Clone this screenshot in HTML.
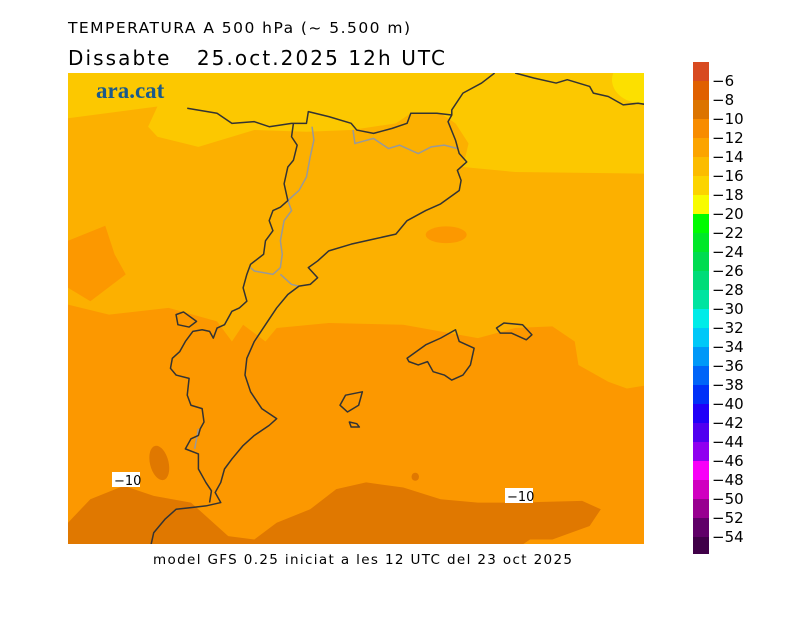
<!DOCTYPE html>
<html><head><meta charset="utf-8"><style>
html,body{margin:0;padding:0;background:#fff;}
svg{display:block;}
text{font-family:"DejaVu Sans","Liberation Sans",sans-serif;fill:#000;}
</style></head><body>
<svg width="800" height="617" viewBox="0 0 800 617" xmlns="http://www.w3.org/2000/svg">
<defs><clipPath id="c"><rect x="68" y="73" width="576" height="471"/></clipPath></defs>
<text x="68" y="33" font-size="15.5" textLength="342" lengthAdjust="spacing">TEMPERATURA A 500 hPa (~ 5.500 m)</text>
<text x="68" y="65" font-size="20" xml:space="preserve" textLength="377" lengthAdjust="spacing">Dissabte   25.oct.2025 12h UTC</text>
<g clip-path="url(#c)">
<rect x="68" y="73" width="576" height="471" fill="#fcb000"/>
<g transform="translate(68 73) scale(0.3726 0.3356)">
<path fill="#fcc800" d="M0,0 L1557,0 L1557,300 L1200,295 L1060,280 L1075,210 L1040,150 L1000,120 L920,120 L880,150 L760,170 L640,175 L500,170 L350,220 L240,190 L215,160 L240,100 L0,135 Z"/>
<ellipse cx="1540" cy="20" rx="80" ry="70" fill="#fce000"/>
<path fill="#fc9800" d="M0,690 L110,720 L270,700 L400,740 L440,800 L470,750 L530,800 L560,760 L700,745 L900,750 L1100,790 L1200,760 L1300,755 L1360,800 L1370,870 L1450,920 L1500,940 L1557,930 L1557,1420 L0,1420 Z"/>
<path fill="#fc9800" d="M0,500 L100,455 L125,540 L155,600 L60,680 L0,640 Z"/>
<ellipse cx="1015" cy="482" rx="55" ry="25" fill="#fc9800"/>
<ellipse cx="1545" cy="815" rx="20" ry="25" fill="#fcb000"/>
<path fill="#e07800" d="M0,1340 L60,1270 L150,1230 L230,1260 L330,1280 L380,1330 L430,1380 L500,1390 L560,1340 L650,1300 L720,1240 L800,1220 L900,1235 L1000,1270 L1100,1280 L1200,1280 L1380,1275 L1430,1300 L1400,1350 L1300,1390 L1240,1390 L1200,1420 L0,1420 Z"/>
<ellipse cx="245" cy="1162" rx="25" ry="52" fill="#e07800" transform="rotate(-12 245 1162)"/>
<ellipse cx="932" cy="1203" rx="10" ry="12" fill="#e07800"/>
<g fill="none" stroke="#999" stroke-width="1.5">
<path vector-effect="non-scaling-stroke" d="M655,160 L660,200 L650,250 L640,310 L620,350 L590,380 L600,410 L580,440 L570,500 L575,540 L570,580 L550,600 L500,590 L490,580 M570,600 L600,630 L620,635"/>
<path vector-effect="non-scaling-stroke" d="M765,170 L770,210 L820,195 L860,225 L890,215 L940,240 L975,220 L1010,215 L1045,225"/>
<path vector-effect="non-scaling-stroke" d="M350,1060 L340,1120"/>
</g>
<g fill="none" stroke="#333" stroke-width="1.5" stroke-linejoin="round">
<path vector-effect="non-scaling-stroke" d="M320,105 L400,120 L440,150 L500,145 L540,160 L600,150 L640,150 L645,115 L700,130 L760,150 L775,170 L820,180 L870,165 L910,150 L920,120 L990,120 L1030,125 L1030,110 L1060,60 L1110,30 L1145,0"/>
<path vector-effect="non-scaling-stroke" d="M1200,0 L1250,15 L1310,30 L1340,20 L1400,40 L1410,60 L1450,70 L1490,95 L1530,90 L1557,95"/>
<path vector-effect="non-scaling-stroke" d="M1030,125 L1020,145 L1040,200 L1050,240 L1070,265 L1045,290 L1055,320 L1050,350 L1000,390 L960,410 L910,440 L880,480 L820,495 L760,510 L700,530 L670,560 L645,580 L670,610 L650,630 L620,635 L590,660 L560,700 L530,750 L500,800 L480,850 L475,900 L490,950 L520,1000 L560,1030 L540,1050 L500,1080 L470,1110 L440,1150 L420,1180 L410,1220 L395,1250 L410,1280 L370,1290 L330,1295 L290,1300 L260,1330 L230,1370 L220,1420"/>
<path vector-effect="non-scaling-stroke" d="M605,150 L600,190 L615,215 L605,260 L590,280 L580,330 L590,380 L570,400 L550,410 L540,440 L550,470 L530,500 L525,540 L490,570 L480,600 L470,640 L480,680 L460,700 L440,710 L420,750 L400,760 L390,790 L380,770 L360,765 L335,770 L315,800 L300,830 L280,850 L275,880 L290,900 L325,910 L320,960 L330,990 L360,1000 L365,1040 L355,1060 L350,1080 L330,1090 L315,1120 L350,1135 L350,1180 L370,1220 L385,1245 L380,1280"/>
<path vector-effect="non-scaling-stroke" d="M290,720 L310,712 L345,740 L325,757 L295,750 Z"/>
<path vector-effect="non-scaling-stroke" d="M910,850 L960,810 L1000,790 L1040,765 L1050,800 L1090,820 L1080,870 L1060,900 L1030,915 L1010,900 L980,890 L965,860 L940,870 L915,860 Z"/>
<path vector-effect="non-scaling-stroke" d="M1150,760 L1170,745 L1220,750 L1245,780 L1230,795 L1190,775 L1160,775 Z"/>
<path vector-effect="non-scaling-stroke" d="M730,990 L745,960 L790,950 L780,990 L750,1010 Z"/>
<path vector-effect="non-scaling-stroke" d="M755,1040 L775,1045 L782,1055 L760,1055 Z"/>
</g>
</g>
<rect x="112" y="472" width="28" height="15" fill="#fff"/>
<text x="114" y="485" font-size="13">−10</text>
<rect x="505" y="488" width="28" height="15" fill="#fff"/>
<text x="507" y="501" font-size="13">−10</text>
<text x="96" y="98" font-size="23" font-weight="bold" style="font-family:'Liberation Serif',serif;fill:#1a5a8c">ara.cat</text>
</g>
<text x="153" y="564" font-size="13.5" textLength="419" lengthAdjust="spacing">model GFS 0.25 iniciat a les 12 UTC del 23 oct 2025</text>
<g>
<rect x="693" y="62" width="16" height="19" fill="#d84a20"/>
<rect x="693" y="81" width="16" height="19" fill="#e06000"/>
<rect x="693" y="100" width="16" height="19" fill="#dc7400"/>
<rect x="693" y="119" width="16" height="19" fill="#f88c00"/>
<rect x="693" y="138" width="16" height="19" fill="#fca400"/>
<rect x="693" y="157" width="16" height="19" fill="#fcbc00"/>
<rect x="693" y="176" width="16" height="19" fill="#fcd400"/>
<rect x="693" y="195" width="16" height="19" fill="#f8fc00"/>
<rect x="693" y="214" width="16" height="19" fill="#00fc00"/>
<rect x="693" y="233" width="16" height="19" fill="#00e828"/>
<rect x="693" y="252" width="16" height="19" fill="#00dc50"/>
<rect x="693" y="271" width="16" height="19" fill="#00dc78"/>
<rect x="693" y="290" width="16" height="19" fill="#00e4a0"/>
<rect x="693" y="309" width="16" height="19" fill="#00ece8"/>
<rect x="693" y="328" width="16" height="19" fill="#00c8f8"/>
<rect x="693" y="347" width="16" height="19" fill="#0098f8"/>
<rect x="693" y="366" width="16" height="19" fill="#0064f8"/>
<rect x="693" y="385" width="16" height="19" fill="#0030f8"/>
<rect x="693" y="404" width="16" height="19" fill="#2000f8"/>
<rect x="693" y="423" width="16" height="19" fill="#5000f0"/>
<rect x="693" y="442" width="16" height="19" fill="#9000f0"/>
<rect x="693" y="461" width="16" height="19" fill="#f800f8"/>
<rect x="693" y="480" width="16" height="19" fill="#d000c0"/>
<rect x="693" y="499" width="16" height="19" fill="#980090"/>
<rect x="693" y="518" width="16" height="19" fill="#600068"/>
<rect x="693" y="537" width="16" height="17" fill="#400048"/>
</g>
<g font-size="15">
<text x="712" y="86">−6</text><text x="712" y="105">−8</text><text x="712" y="124">−10</text><text x="712" y="143">−12</text><text x="712" y="162">−14</text><text x="712" y="181">−16</text><text x="712" y="200">−18</text><text x="712" y="219">−20</text><text x="712" y="238">−22</text><text x="712" y="257">−24</text><text x="712" y="276">−26</text><text x="712" y="295">−28</text><text x="712" y="314">−30</text><text x="712" y="333">−32</text><text x="712" y="352">−34</text><text x="712" y="371">−36</text><text x="712" y="390">−38</text><text x="712" y="409">−40</text><text x="712" y="428">−42</text><text x="712" y="447">−44</text><text x="712" y="466">−46</text><text x="712" y="485">−48</text><text x="712" y="504">−50</text><text x="712" y="523">−52</text><text x="712" y="542">−54</text>
</g>
</svg>
</body></html>
